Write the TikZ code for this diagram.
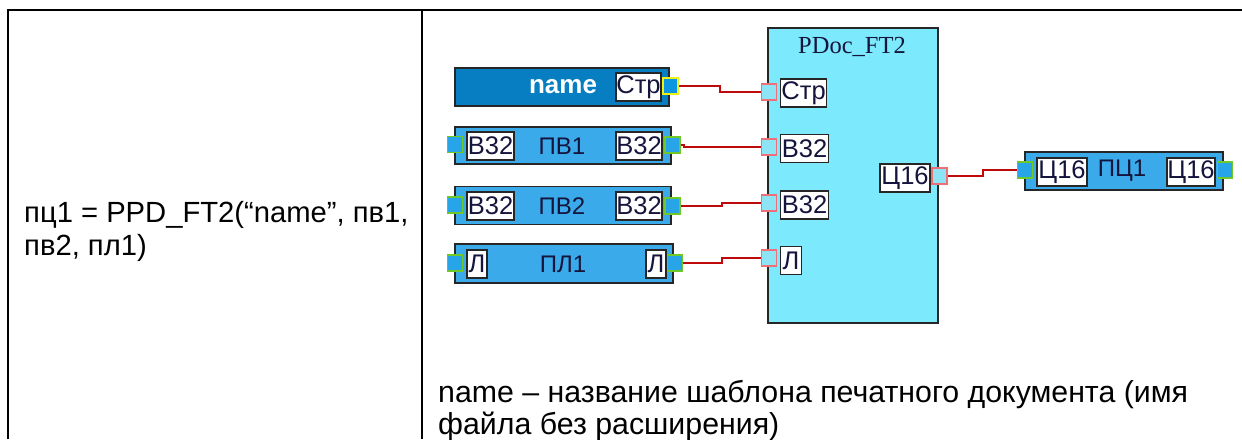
\documentclass[tikz,border=0pt]{standalone}
\usepackage{fontspec}
\setmainfont{Liberation Sans}
\newfontfamily\serifft{Liberation Serif}
\begin{document}
\begin{tikzpicture}[x=1pt,y=-1pt,
  tline/.style={line width=1.8pt,black},
  bigtext/.style={inner sep=0pt,anchor=base west,font=\fontsize{29.2}{33}\selectfont},
  bottext/.style={inner sep=0pt,anchor=base west,font=\fontsize{30.3}{33}\selectfont},
  blk/.style={draw=black!85,line width=1.3pt,inner sep=0pt},
  nameblk/.style={blk,fill=nameblue},
  varblk/.style={blk,fill=varblue},
  fblk/.style={blk,fill=fcyan},
  lbl/.style={draw=black!85,fill=white,line width=1.2pt,inner sep=0pt,minimum height=28,
     font=\fontsize{25.5}{25.5}\selectfont,text=labtext},
  btxt/.style={inner sep=0pt,font=\fontsize{24}{24}\selectfont,text=labtext},
  portY/.style={draw=portyellow,fill=portblue,line width=1.2pt,inner sep=0pt,minimum width=15,minimum height=16},
  portG/.style={draw=portgreen,fill=portblue2,line width=1.2pt,inner sep=0pt,minimum width=15,minimum height=16},
  portP/.style={draw=portpink,fill=portcyan,line width=1.2pt,inner sep=0pt,minimum width=15,minimum height=16},
  wire/.style={draw=wirered,line width=1.5pt}
]
\definecolor{nameblue}{RGB}{8,126,194}
\definecolor{varblue}{RGB}{58,170,234}
\definecolor{fcyan}{RGB}{124,234,252}
\definecolor{labtext}{RGB}{20,20,60}
\definecolor{portyellow}{RGB}{240,240,20}
\definecolor{portblue}{RGB}{10,150,225}
\definecolor{portgreen}{RGB}{110,200,40}
\definecolor{portblue2}{RGB}{40,165,232}
\definecolor{portpink}{RGB}{240,110,120}
\definecolor{portcyan}{RGB}{140,228,245}
\definecolor{wirered}{RGB}{190,10,10}

\useasboundingbox (0,0) rectangle (1242,439);
\fill[white] (0,0) rectangle (1242,439);

% table
\coordinate (tl) at (8,10);
\coordinate (tr) at (1242,10);
\coordinate (bl) at (8,439);
\coordinate (dt) at (422,10);
\coordinate (db) at (422,439);
\draw[tline] (bl) -- (tl) -- (tr);
\draw[tline] (dt) -- (db);

% left text
\node[bigtext] (f1) at (24,222) {пц1 = PPD\_FT2(“name”, пв1,};
\node[bigtext] (f2) at (24,255) {пв2, пл1)};

% bottom text
\node[bottext] (n1) at (438,402) {name – название шаблона печатного документа (имя};
\node[bottext] (n2) at (438,434) {файла без расширения)};

% name block
\node[nameblk,minimum width=214,minimum height=38] (bname) at (562,87) {};
\node[inner sep=0pt,font=\bfseries\fontsize{26}{26}\selectfont,text=white] (tname) at (563,87) {name};
\node[lbl,minimum width=45] (lname) at (638.5,87) {Стр};
\node[portY] (pname) at (670.5,86) {};

% ПВ1
\node[varblk,minimum width=216,minimum height=37] (bpv1) at (563,145.5) {};
\node[portG] (pv1l) at (455,144.5) {};
\node[lbl,minimum width=47] (lpv1l) at (490.5,146) {В32};
\node[btxt] (tpv1) at (562,146) {ПВ1};
\node[lbl,minimum width=46] (lpv1r) at (639,146) {В32};
\node[portG] (pv1r) at (672.5,145) {};

% ПВ2
\node[varblk,minimum width=216,minimum height=38] (bpv2) at (563,205.5) {};
\node[portG] (pv2l) at (455,205) {};
\node[lbl,minimum width=47] (lpv2l) at (490.5,206) {В32};
\node[btxt] (tpv2) at (562,206) {ПВ2};
\node[lbl,minimum width=46] (lpv2r) at (639,206) {В32};
\node[portG] (pv2r) at (672.5,206) {};

% ПЛ1
\node[varblk,minimum width=218,minimum height=39] (bpl1) at (564,263.5) {};
\node[portG] (pl1l) at (455,263) {};
\node[lbl,minimum width=20] (lpl1l) at (477,264) {Л};
\node[btxt] (tpl1) at (563,264) {ПЛ1};
\node[lbl,minimum width=20] (lpl1r) at (656,264) {Л};
\node[portG] (pl1r) at (675,263) {};

% PDoc_FT2
\node[fblk,minimum width=170,minimum height=295] (bpd) at (853,175.5) {};
\node[inner sep=0pt,font=\serifft\fontsize{24.5}{24.5}\selectfont,text=labtext] (tpd) at (852,47) {PDoc\_FT2};
\node[portP] (pd1) at (769,92) {};
\node[portP] (pd2) at (769,147) {};
\node[portP] (pd3) at (769,203) {};
\node[portP] (pd4) at (769,258) {};
\node[lbl,minimum width=46,anchor=west] (lpd1) at (780,93) {Стр};
\node[lbl,minimum width=48,anchor=west] (lpd2) at (780,148.5) {В32};
\node[lbl,minimum width=48,anchor=west] (lpd3) at (780,205) {В32};
\node[lbl,minimum width=21,anchor=west] (lpd4) at (780,260.5) {Л};
\node[lbl,minimum width=50] (lpdo) at (905,178) {Ц16};
\node[portP] (pdo) at (939.5,176) {};

% ПЦ1
\node[varblk,minimum width=198,minimum height=38] (bpc1) at (1124,171) {};
\node[portG] (pc1l) at (1025,170) {};
\node[lbl,minimum width=50] (lpc1l) at (1062,172) {Ц16};
\node[btxt] (tpc1) at (1122,171) {ПЦ1};
\node[lbl,minimum width=48] (lpc1r) at (1191,172) {Ц16};
\node[portG] (pc1r) at (1225,170) {};

% wires
\coordinate (s1) at (720,0);
\coordinate (s2) at (684,0);
\coordinate (s3) at (722,0);
\coordinate (s4) at (722,0);
\coordinate (s5) at (983,0);
\draw[wire] (pname.east) -| (s1 |- pd1.west) -- (pd1.west);
\draw[wire] (pv1r.east) -| (s2 |- pd2.west) -- (pd2.west);
\draw[wire] (pv2r.east) -| (s3 |- pd3.west) -- (pd3.west);
\draw[wire] (pl1r.east) -| (s4 |- pd4.west) -- (pd4.west);
\draw[wire] (pdo.east) -| (s5 |- pc1l.west) -- (pc1l.west);
\end{tikzpicture}
\end{document}
